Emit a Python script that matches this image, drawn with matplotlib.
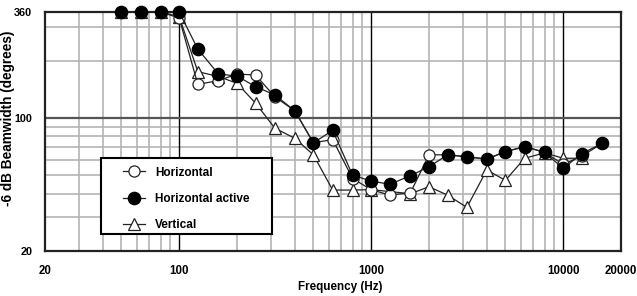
import matplotlib
matplotlib.use("Agg")
import matplotlib.pyplot as plt
from matplotlib.patches import Rectangle
from matplotlib.ticker import FixedLocator, NullFormatter, NullLocator

plt.rcParams['font.family'] = ['Liberation Sans', 'DejaVu Sans']

freq = [50, 63, 80, 100, 125, 160, 200, 250, 315, 400, 500, 630, 800, 1000,
        1250, 1600, 2000, 2500, 3150, 4000, 5000, 6300, 8000, 10000, 12500, 16000]
horizontal = [360, 360, 360, 335, 150, 157, 170, 168, 129, 109, 74, 77, 48, 42,
              39.3, 40.4, 64, 64, 62.5, 60.8, 66.5, 70.6, 66, 57, 63, 73.6]
horizontal_active = [360, 360, 360, 360, 230, 170, 166, 146, 132, 109, 74, 86, 50, 46.6,
                     44.8, 49.7, 55.4, 64, 62.5, 60.8, 66.5, 70.6, 66, 54.3, 65, 73.6]
freq_vertical = [50, 63, 80, 100, 125, 160, 200, 250, 315, 400, 500, 630, 800, 1000,
                 1600, 2000, 2500, 3150, 4000, 5000, 6300, 8000, 10000, 12500]
vertical = [360, 360, 360, 340, 175, 165, 152, 119.5, 88.3, 78.2, 64, 41.8, 41.8, 42,
            40, 43.5, 39.3, 33.9, 53.3, 47, 61.4, 65.5, 61.4, 61.4]

x_ticks = [20, 100, 1000, 10000, 20000]
y_ticks = [20, 100, 360]

W, H = 637, 296
fig = plt.figure(figsize=(W / 100, H / 100), dpi=100)
ax = fig.add_axes([45 / W, 1 - 251 / H, 576 / W, 239 / H])
ax.set_xscale('log')
ax.set_yscale('log')
ax.set_xlim(20, 20000)
ax.set_ylim(20, 360)

# grid lines
minor_x = [m * d for d in (10, 100, 1000, 10000) for m in range(2, 10) if 20 < m * d < 20000]
for xv in minor_x:
    ax.axvline(xv, color='#b4b4b4', lw=1.2, zorder=0)
for xv in (100, 1000, 10000):
    ax.axvline(xv, color='black', lw=1.0, zorder=0.5)
for yv in (30, 40, 50, 60, 70, 80, 90, 200, 300):
    ax.axhline(yv, color='#b4b4b4', lw=1.2, zorder=0)
ax.axhline(100, color='#555555', lw=1.6, zorder=0.5)

lc = '#222222'
ax.plot(freq_vertical, vertical, color=lc, lw=0.9, marker='^', ms=8.5,
        mfc='white', mec=lc, mew=0.9, label='Vertical', clip_on=False, zorder=3)
ax.plot(freq, horizontal, color=lc, lw=0.9, marker='o', ms=8,
        mfc='white', mec=lc, mew=0.9, label='Horizontal', clip_on=False, zorder=4)
ax.plot(freq, horizontal_active, color=lc, lw=0.9, marker='o', ms=8.8,
        mfc='black', mec='black', label='Horizontal active', clip_on=False, zorder=5)

ax.xaxis.set_major_locator(FixedLocator(x_ticks))
ax.xaxis.set_minor_locator(NullLocator())
ax.set_xticklabels([str(v) for v in x_ticks], fontweight='bold', fontsize=8.3)
ax.yaxis.set_major_locator(FixedLocator(y_ticks))
ax.yaxis.set_minor_locator(NullLocator())
ax.yaxis.set_minor_formatter(NullFormatter())
ax.set_yticklabels([str(v) for v in y_ticks], fontweight='bold', fontsize=7.8)
ax.tick_params(axis='x', length=0, pad=10)
ax.tick_params(axis='y', length=0, pad=9.2)

for s in ax.spines.values():
    s.set_color('#222222')
    s.set_linewidth(1.6)

ax.set_xlabel('Frequency (Hz)', fontweight='bold', fontsize=8.4)
ax.xaxis.set_label_coords((340 - 45) / 576, (251 - 281) / 239)
ax.set_ylabel('-6 dB Beamwidth (degrees)', fontweight='bold', fontsize=9.8)
ax.yaxis.set_label_coords((15 - 45) / 576, (251 - 118) / 239)

# legend box
box = Rectangle((101 / W, 1 - 233.5 / H), 171 / W, 76 / H, transform=fig.transFigure,
                facecolor='white', edgecolor='black', lw=1.5, zorder=6, clip_on=False)
ax.add_patch(box)

handles, labels = ax.get_legend_handles_labels()
order = [1, 2, 0]
leg = ax.legend([handles[i] for i in order], [labels[i] for i in order],
                loc='upper left', bbox_to_anchor=(123.3 / W, 1 - 166.5 / H),
                bbox_transform=fig.transFigure, frameon=False,
                prop={'weight': 'bold', 'size': 8.5}, handlelength=1.8,
                labelspacing=1.2, borderpad=0, handletextpad=0.9, borderaxespad=0)
leg.set_zorder(7)

fig.savefig('out.png', dpi=100)
